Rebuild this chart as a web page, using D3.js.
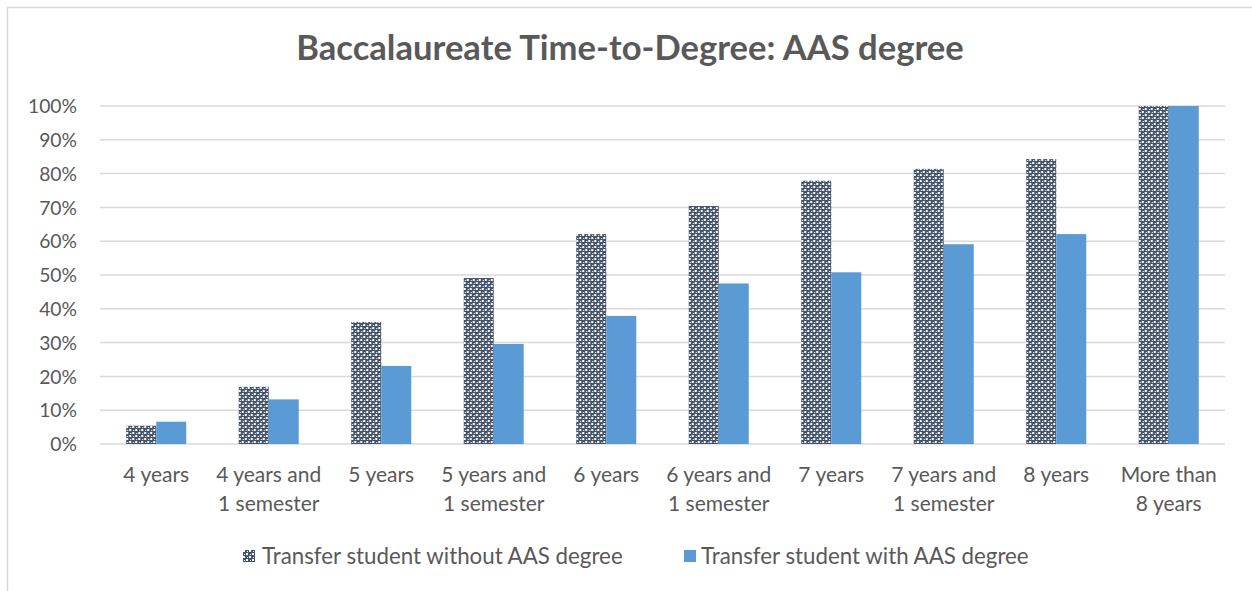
<!DOCTYPE html>
<html><head><meta charset="utf-8">
<script src="https://cdn.jsdelivr.net/npm/d3@7"></script>
<style>
html,body{margin:0;padding:0;background:#fff;}
svg{display:block;}
text{font-family:Lato,"Open Sans",sans-serif;fill:#595959;}
</style></head>
<body>
<svg id="chart" width="1252" height="591"></svg>
<script>
const categories = [["4 years"],["4 years and","1 semester"],["5 years"],["5 years and","1 semester"],["6 years"],["6 years and","1 semester"],["7 years"],["7 years and","1 semester"],["8 years"],["More than","8 years"]];
const seriesNames = ["Transfer student without AAS degree","Transfer student with AAS degree"];
const withoutAAS = [0.054, 0.169, 0.361, 0.491, 0.621, 0.704, 0.779, 0.814, 0.843, 1.0];
const withAAS = [0.066, 0.132, 0.231, 0.296, 0.379, 0.475, 0.508, 0.591, 0.621, 1.0];
const yTicks = [0,0.1,0.2,0.3,0.4,0.5,0.6,0.7,0.8,0.9,1.0];

const svg = d3.select("#chart");
const W = 1252, H = 591;
const m = {left:100, right:27, top:106, bottom:147};

// pattern
const defs = svg.append("defs");
const pat = defs.append("pattern").attr("id","checker").attr("patternUnits","userSpaceOnUse")
  .attr("width",6).attr("height",6);
pat.append("rect").attr("width",6).attr("height",6).attr("fill","#44546a");
[[0,0],[3,3]].forEach(([x,y])=>pat.append("rect").attr("x",x).attr("y",y).attr("width",2).attr("height",2).attr("fill","#fff"));
[[1,4],[4,1]].forEach(([x,y])=>pat.append("rect").attr("x",x).attr("y",y).attr("width",1).attr("height",1).attr("fill","#fff"));

// chart border
svg.append("path").attr("d",`M7.5,${H} V7.5 H${W}`).attr("fill","none").attr("stroke","#d9d9d9").attr("stroke-width",1.5);

svg.append("text").attr("x",630).attr("y",60).attr("text-anchor","middle")
  .style("font-size","34.6px").style("font-weight","bold").text("Baccalaureate Time-to-Degree: AAS degree");

const x = d3.scaleBand().domain(d3.range(categories.length)).range([m.left, W-m.right]).paddingInner(0.4667).paddingOuter(0.2333);
const xs = d3.scaleBand().domain([0,1]).range([0, x.bandwidth()]);
const y = d3.scaleLinear().domain([0,1]).range([H-m.bottom, m.top]);

// gridlines
svg.append("g").selectAll("line").data(yTicks).join("line")
  .attr("x1",m.left).attr("x2",W-m.right)
  .attr("y1",d=>y(d)).attr("y2",d=>y(d))
  .attr("stroke","#d9d9d9").attr("stroke-width",1.5);

// y axis labels
const yAxis = d3.axisLeft(y).tickValues(yTicks).tickFormat(d3.format(".0%")).tickSize(0).tickPadding(23);
const ga = svg.append("g").attr("transform",`translate(${m.left},0)`).call(yAxis);
ga.select(".domain").remove();
ga.selectAll("text").style("font-size","19.3px").style("font-family","Lato").attr("fill","#595959").attr("dy","0.35em");

// bars
const data = categories.map((c,i)=>({i, vals:[withoutAAS[i], withAAS[i]]}));
const g = svg.append("g").selectAll("g").data(data).join("g").attr("transform",d=>`translate(${x(d.i)},0)`);
g.selectAll("rect").data(d=>d.vals.map((v,k)=>({v,k}))).join("rect")
  .attr("x",d=>xs(d.k)).attr("width",xs.bandwidth())
  .attr("y",d=>y(d.v)).attr("height",d=>y(0)-y(d.v))
  .attr("fill",d=>d.k===0?"url(#checker)":"#5b9bd5");

// x labels
const xl = svg.append("g").selectAll("text").data(categories).join("text")
  .attr("x",(d,i)=>x(i)+x.bandwidth()/2).attr("y",482).attr("text-anchor","middle")
  .style("font-size","21px");
xl.selectAll("tspan").data(d=>d).join("tspan").attr("x",function(){return this.parentNode.getAttribute("x");})
  .attr("dy",(d,i)=>i===0?0:29).text(d=>d);

// legend
const legX = [243, 684];
const lg = svg.append("g").selectAll("g").data(seriesNames).join("g").attr("transform",(d,i)=>`translate(${legX[i]},550)`);
lg.append("rect").attr("width",12).attr("height",12).attr("fill",(d,i)=>i===0?"url(#checker)":"#5b9bd5");
lg.append("text").attr("x",(d,i)=>i===0?19:17).attr("y",13.5).style("font-size","22.3px").text(d=>d);
</script>
</body></html>
